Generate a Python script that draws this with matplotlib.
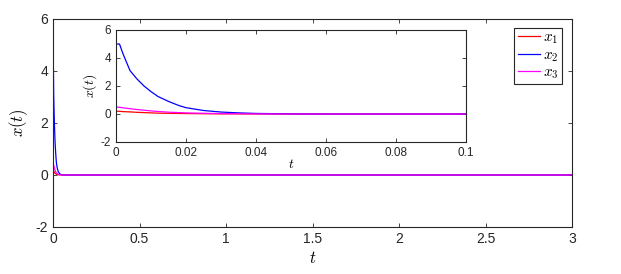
import matplotlib
matplotlib.use('Agg')
import matplotlib.pyplot as plt

t  = [0, 0.001, 0.002, 0.004, 0.006, 0.008, 0.010, 0.012, 0.015, 0.018, 0.020,
      0.025, 0.030, 0.035, 0.040, 0.050, 0.060, 0.080, 0.100, 3.0]
x1 = [0.20, 0.19, 0.17, 0.15, 0.12, 0.10, 0.08, 0.06, 0.05, 0.04, 0.03,
      0.02, 0.01, 0.01, 0.005, 0.0, 0.0, 0.0, 0.0, 0.0]
x2 = [5.0, 5.0, 4.3, 3.1, 2.5, 2.0, 1.6, 1.25, 0.9, 0.6, 0.45,
      0.25, 0.14, 0.08, 0.04, 0.01, 0.0, 0.0, 0.0, 0.0]
x3 = [0.50, 0.48, 0.44, 0.38, 0.32, 0.27, 0.22, 0.18, 0.13, 0.10, 0.08,
      0.05, 0.03, 0.02, 0.01, 0.0, 0.0, 0.0, 0.0, 0.0]

plt.rcParams['font.family'] = ['Liberation Sans', 'DejaVu Sans']
plt.rcParams['mathtext.fontset'] = 'cm'
plt.rcParams['axes.unicode_minus'] = False

c_red = '#FF0000'
c_blue = '#0000FF'
c_mag = '#FF00FF'
c_axis = '#262626'

fig = plt.figure(figsize=(6.21, 2.74), dpi=100)
fig.patch.set_facecolor('white')

def style(ax, fs):
    for s in ax.spines.values():
        s.set_color(c_axis)
        s.set_linewidth(0.8)
    ax.tick_params(direction='in', top=True, right=True, labelsize=fs,
                   colors=c_axis, length=3, width=0.6)

# main axes
ax = fig.add_axes([53/621, 1 - 227/274, (572 - 53)/621, (227 - 19)/274])
ax.plot(t, x1, color=c_red, lw=0.9, label='$x_1$')
ax.plot(t, x2, color=c_blue, lw=0.9, label='$x_2$')
ax.plot(t, x3, color=c_mag, lw=0.9, label='$x_3$')
ax.set_xlim(0, 3)
ax.set_ylim(-2, 6)
ax.set_xticks([0, 0.5, 1, 1.5, 2, 2.5, 3])
ax.set_xticklabels(['0', '0.5', '1', '1.5', '2', '2.5', '3'])
ax.set_yticks([-2, 0, 2, 4, 6])
ax.set_xlabel('$t$', fontsize=12, labelpad=3)
ax.set_ylabel('$x(t)$', fontsize=12, labelpad=4)
style(ax, 10)
leg = ax.legend(loc='upper right', bbox_to_anchor=(0.981, 0.958), fontsize=11,
                handlelength=1.5, handletextpad=0.2, borderpad=0.2,
                labelspacing=0.12, fancybox=False, framealpha=1,
                borderaxespad=0)
leg.get_frame().set_edgecolor(c_axis)
leg.get_frame().set_linewidth(0.8)

# inset
ai = fig.add_axes([116/621, 1 - 142/274, (466 - 116)/621, (142 - 30)/274])
ai.plot(t, x1, color=c_red, lw=0.9)
ai.plot(t, x2, color=c_blue, lw=0.9)
ai.plot(t, x3, color=c_mag, lw=0.9)
ai.set_xlim(0, 0.1)
ai.set_ylim(-2, 6)
ai.set_xticks([0, 0.02, 0.04, 0.06, 0.08, 0.1])
ai.set_xticklabels(['0', '0.02', '0.04', '0.06', '0.08', '0.1'])
ai.set_yticks([-2, 0, 2, 4, 6])
ai.set_xlabel('$t$', fontsize=10, labelpad=-1)
ai.set_ylabel('$x(t)$', fontsize=10, labelpad=1)
style(ai, 8.5)

fig.savefig('out.png', dpi=100, facecolor='white')
